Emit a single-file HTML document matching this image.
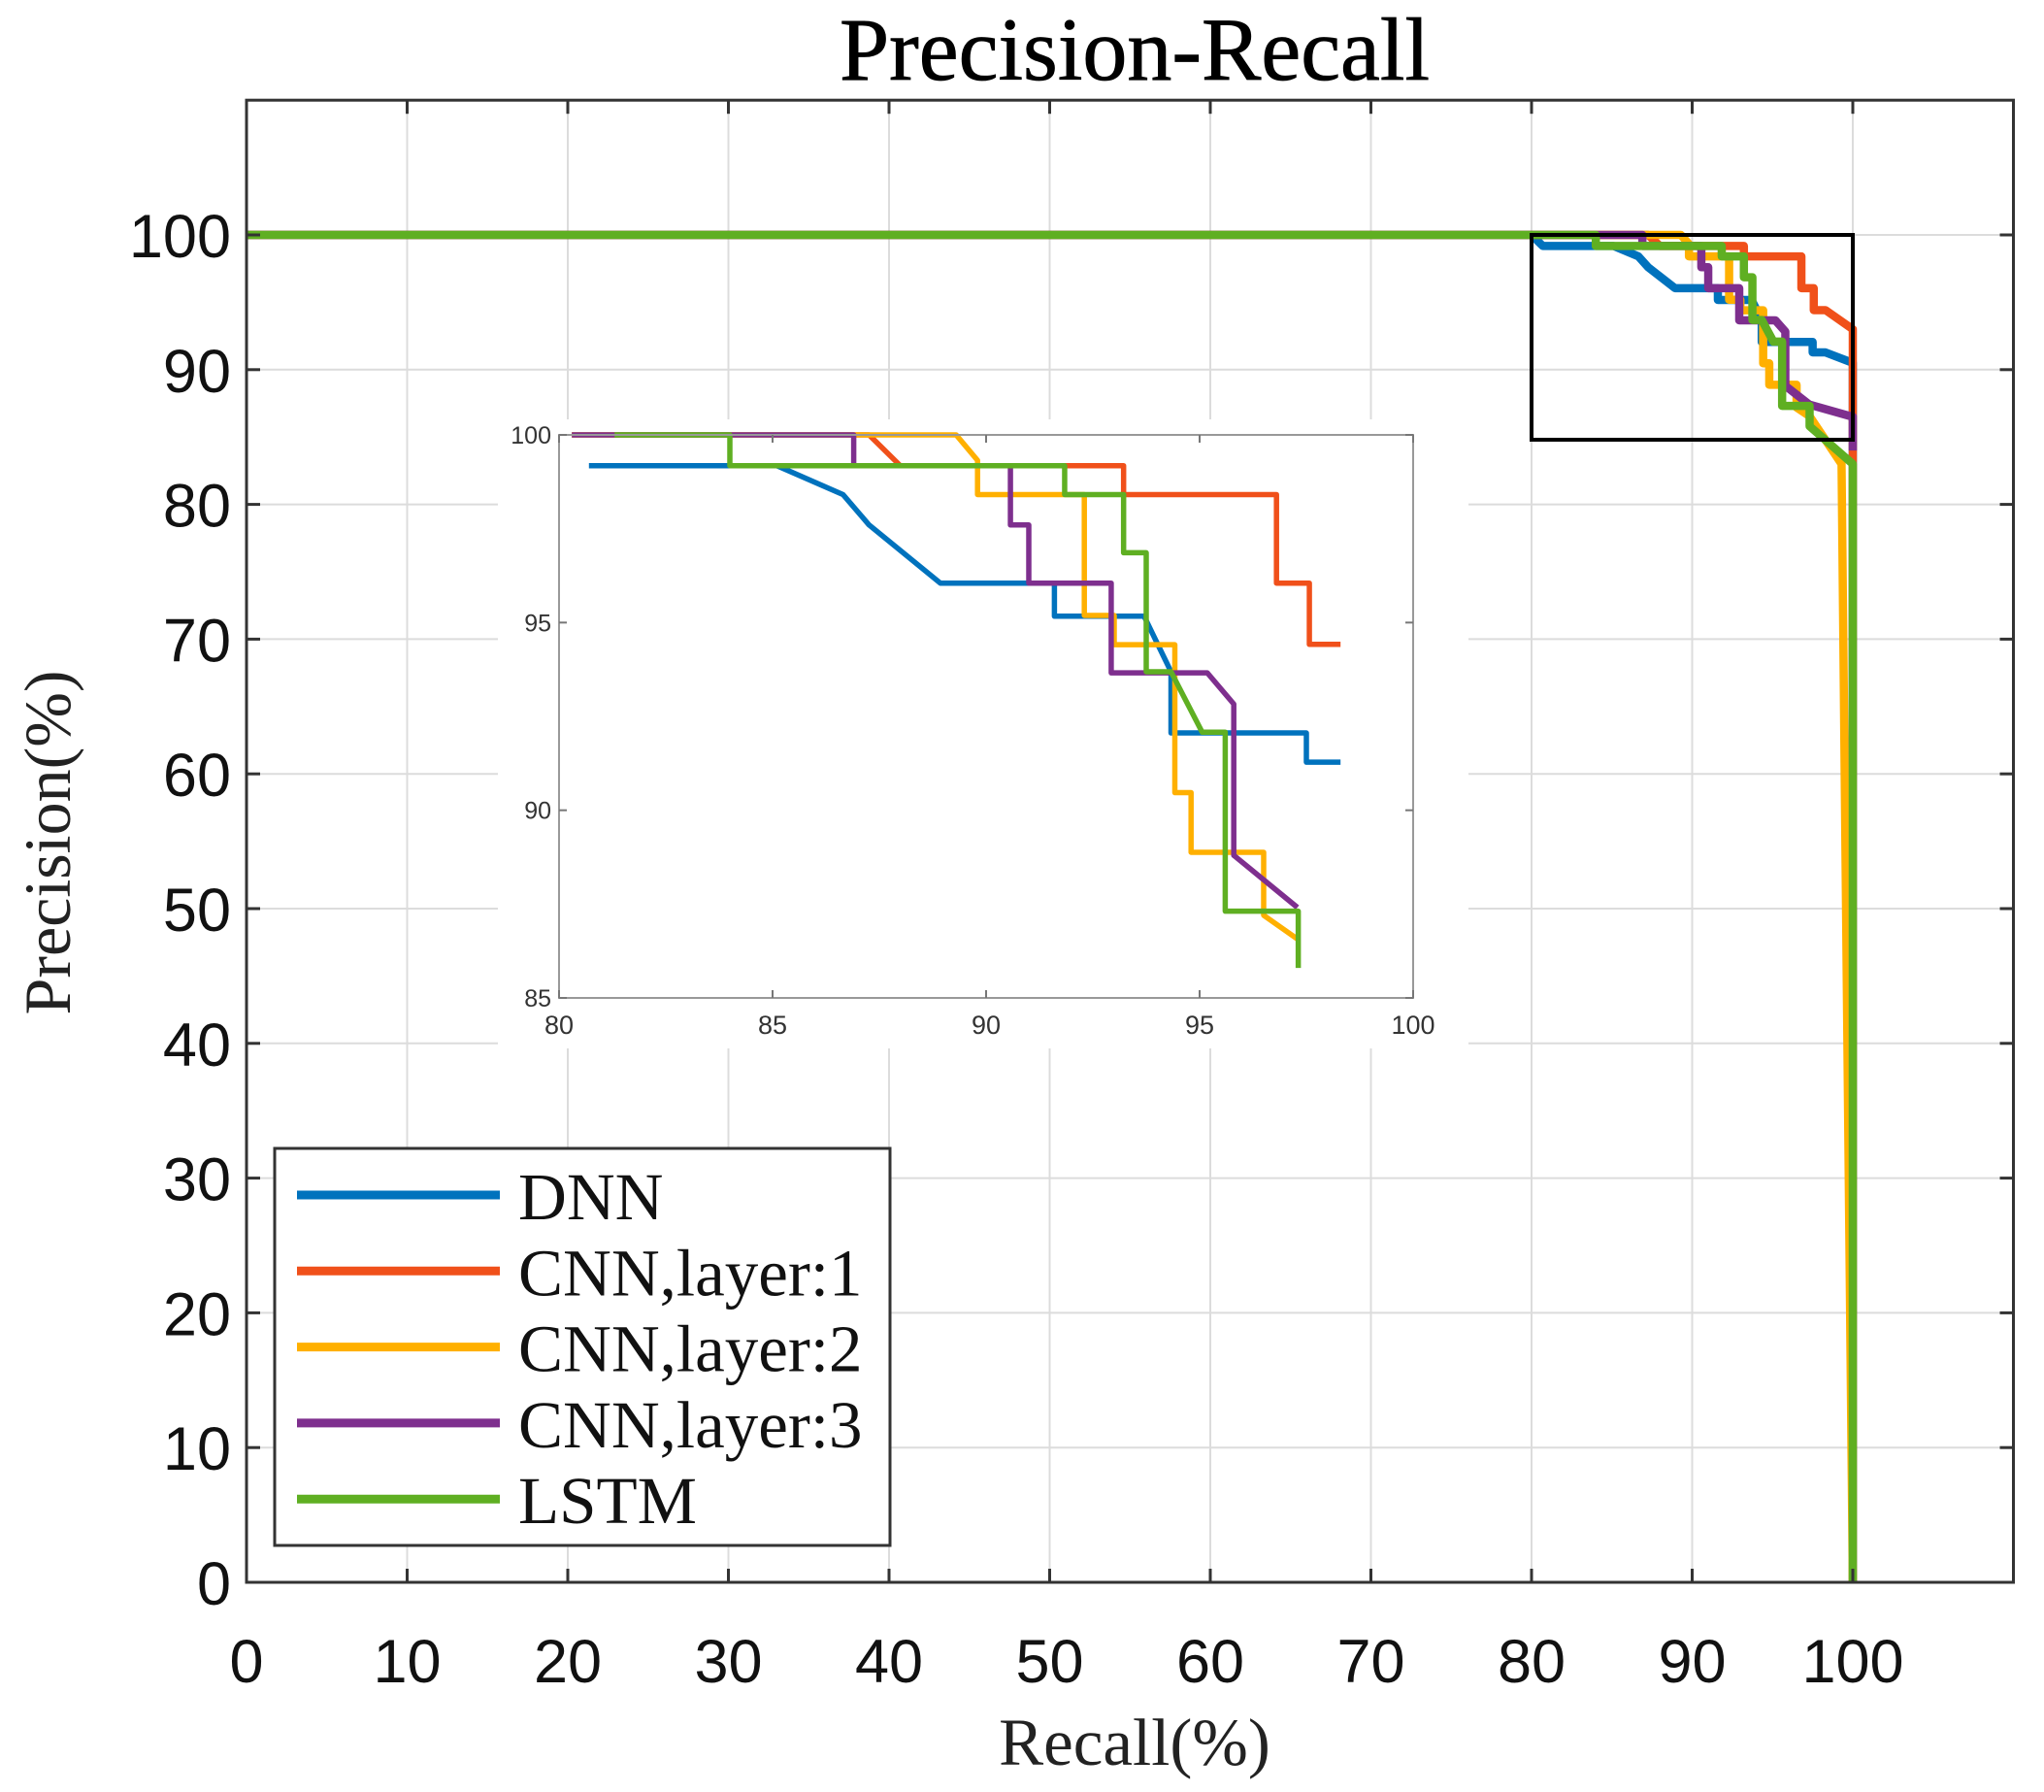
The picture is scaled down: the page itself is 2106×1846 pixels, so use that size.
<!DOCTYPE html>
<html><head><meta charset="utf-8"><style>
html,body{margin:0;padding:0;background:#fff;}
svg{display:block;}
</style></head><body>
<svg id="chart" width="2106" height="1846" viewBox="0 0 2106 1846" xmlns="http://www.w3.org/2000/svg">
<rect x="0" y="0" width="2106" height="1846" fill="#fff"/>
<g id="grid"></g>
<g id="inset-bg"></g>
<g id="main-lines"></g>
<g id="axes"></g>
<g id="inset"></g>
<g id="legend"></g>
<text x="1169" y="82" font-family="Liberation Serif, serif" font-size="92" text-anchor="middle" fill="#000" stroke="#000" stroke-width="0.8">Precision-Recall</text>
<text x="1169" y="1818" font-family="Liberation Serif, serif" font-size="69" text-anchor="middle" fill="#222">Recall(%)</text>
<text transform="translate(72,868) rotate(-90)" font-family="Liberation Serif, serif" font-size="68" text-anchor="middle" fill="#222">Precision(%)</text>
</svg>
<script>
const seriesNames = ["DNN","CNN,layer:1","CNN,layer:2","CNN,layer:3","LSTM"];
const xTicks = [0,10,20,30,40,50,60,70,80,90,100];
const yTicks = [0,10,20,30,40,50,60,70,80,90,100];
const insetXTicks = [80,85,90,95,100];
const insetYTicks = [85,90,95,100];
const dnnX = [80.7,85.1,86.65,87.26,88.93,91.6,91.6,93.7,94.33,94.33,97.5,97.5,98.3];
const dnnY = [99.18,99.18,98.41,97.6,96.05,96.05,95.17,95.17,93.69,92.06,92.06,91.28,91.28];
const cnn1X = [80.3,87.26,87.99,93.22,93.22,96.8,96.8,97.57,97.57,98.3];
const cnn1Y = [100,100,99.18,99.18,98.41,98.41,96.05,96.05,94.42,94.42];
const cnn2X = [80.3,89.3,89.8,89.8,92.3,92.3,93.0,93.0,94.42,94.42,94.8,94.8,96.5,96.5,97.3];
const cnn2Y = [100,100,99.32,98.41,98.41,95.19,95.19,94.41,94.41,90.47,90.47,88.88,88.88,87.2,86.56];
const cnn3X = [80.3,86.9,86.9,90.57,90.57,91.0,91.0,92.93,92.93,95.18,95.8,95.8,97.29];
const cnn3Y = [100,100,99.18,99.18,97.6,97.6,96.05,96.05,93.66,93.66,92.83,88.8,87.41];
const lstmX = [81.3,84.0,84.0,91.84,91.84,93.22,93.22,93.75,93.75,94.33,95.06,95.6,95.6,97.31,97.31];
const lstmY = [100,100,99.18,99.18,98.41,98.41,96.86,96.86,93.69,93.69,92.08,92.08,87.31,87.31,85.8];
const tailX = [[100,100],[100,100],[99.3,100],[100,100],[100,100]];
const tailY = [[90.5,0],[93,0],[83,0],[86.5,84],[83,0]];
const colors = ["#0072BD","#F0501A","#FFB000","#7E2F8E","#5FAF22"];
const allX=[dnnX,cnn1X,cnn2X,cnn3X,lstmX], allY=[dnnY,cnn1Y,cnn2Y,cnn3Y,lstmY];

const NS="http://www.w3.org/2000/svg";
function mk(tag,attrs,parent){const e=document.createElementNS(NS,tag);for(const k in attrs)e.setAttribute(k,attrs[k]);parent.appendChild(e);return e;}
const X0=254,XS=16.55,Y0=1630,YS=13.88;
const mx=v=>X0+v*XS, my=v=>Y0-v*YS;
const L=mx(0),R=mx(110),T=my(110),B=my(0);
const IL=576,IR=1456,IT=448,IB=1028;
const ix=v=>IL+(v-80)/20*(IR-IL), iy=v=>IB-(v-85)/15*(IB-IT);

const grid=document.getElementById('grid');
xTicks.forEach(t=>{const l=mk('line',{x1:mx(t),x2:mx(t),y1:T,y2:B,stroke:'#dcdcdc','stroke-width':2},grid);
});
yTicks.forEach(t=>{const l=mk('line',{x1:L,x2:R,y1:my(t),y2:my(t),stroke:'#dcdcdc','stroke-width':2},grid);
});
const ibg=mk('rect',{x:513,y:432,width:1000,height:648,fill:'#fff'},document.getElementById('inset-bg'));


const ml=document.getElementById('main-lines');
allX.forEach((xs,i)=>{
  const pts=[[0,100],[80,100]];xs.forEach((x,j)=>pts.push([x,allY[i][j]]));
  tailX[i].forEach((x,j)=>pts.push([x,tailY[i][j]]));
  const p=mk('polyline',{points:pts.map(p=>mx(p[0])+','+my(p[1])).join(' '),fill:'none',stroke:colors[i],'stroke-width':8.5,'stroke-linejoin':'round'},ml);
  
  
});
const zb=mk('rect',{x:mx(80),y:my(100),width:mx(100)-mx(80),height:my(84.8)-my(100),fill:'none',stroke:'#000','stroke-width':4},ml);


const ax=document.getElementById('axes');
const fr=mk('rect',{x:L,y:T,width:R-L,height:B-T,fill:'none',stroke:'#333','stroke-width':3},ax);

xTicks.forEach(t=>{
  mk('line',{x1:mx(t),x2:mx(t),y1:B,y2:B-14,stroke:'#333','stroke-width':3},ax);
  mk('line',{x1:mx(t),x2:mx(t),y1:T,y2:T+14,stroke:'#333','stroke-width':3},ax);
  const tx=mk('text',{x:mx(t),y:1733,'font-family':'Liberation Sans, sans-serif','font-size':63,'text-anchor':'middle',fill:'#111'},ax);
  tx.textContent=t;
});
yTicks.forEach(t=>{
  mk('line',{x1:L,x2:L+14,y1:my(t),y2:my(t),stroke:'#333','stroke-width':3},ax);
  mk('line',{x1:R,x2:R-14,y1:my(t),y2:my(t),stroke:'#333','stroke-width':3},ax);
  const tx=mk('text',{x:238,y:my(t)+23,'font-family':'Liberation Sans, sans-serif','font-size':63,'text-anchor':'end',fill:'#111'},ax);
  tx.textContent=t;
});

const ins=document.getElementById('inset');
allX.forEach((xs,i)=>{
  const p=mk('polyline',{points:xs.map((x,j)=>ix(x)+','+iy(allY[i][j])).join(' '),fill:'none',stroke:colors[i],'stroke-width':5.5,'stroke-linejoin':'round'},ins);
  
  
});
const ifr=mk('rect',{x:IL,y:IT,width:IR-IL,height:IB-IT,fill:'none',stroke:'#999','stroke-width':2},ins);

insetXTicks.forEach(t=>{
  mk('line',{x1:ix(t),x2:ix(t),y1:IB,y2:IB-8,stroke:'#777','stroke-width':2},ins);
  mk('line',{x1:ix(t),x2:ix(t),y1:IT,y2:IT+8,stroke:'#777','stroke-width':2},ins);
  const tx=mk('text',{x:ix(t),y:IB+37,'font-family':'Liberation Sans, sans-serif','font-size':27,'text-anchor':'middle',fill:'#333'},ins);
  tx.textContent=t;
});
insetYTicks.forEach(t=>{
  mk('line',{x1:IL,x2:IL+8,y1:iy(t),y2:iy(t),stroke:'#777','stroke-width':2},ins);
  mk('line',{x1:IR,x2:IR-8,y1:iy(t),y2:iy(t),stroke:'#777','stroke-width':2},ins);
  const tx=mk('text',{x:IL-8,y:iy(t)+9,'font-family':'Liberation Sans, sans-serif','font-size':25,'text-anchor':'end',fill:'#333'},ins);
  tx.textContent=t;
});

const lg=document.getElementById('legend');
const lb=mk('rect',{x:283,y:1183,width:634,height:409,fill:'#fff',stroke:'#333','stroke-width':3},lg);

seriesNames.forEach((n,i)=>{
  const y=1231+i*78.3;
  const ln=mk('line',{x1:306,x2:515,y1:y,y2:y,stroke:colors[i],'stroke-width':9},lg);
  
  const tx=mk('text',{x:534,y:y+25,'font-family':'Liberation Serif, serif','font-size':69,fill:'#111'},lg);
  tx.textContent=n;
});
</script>
</body></html>
